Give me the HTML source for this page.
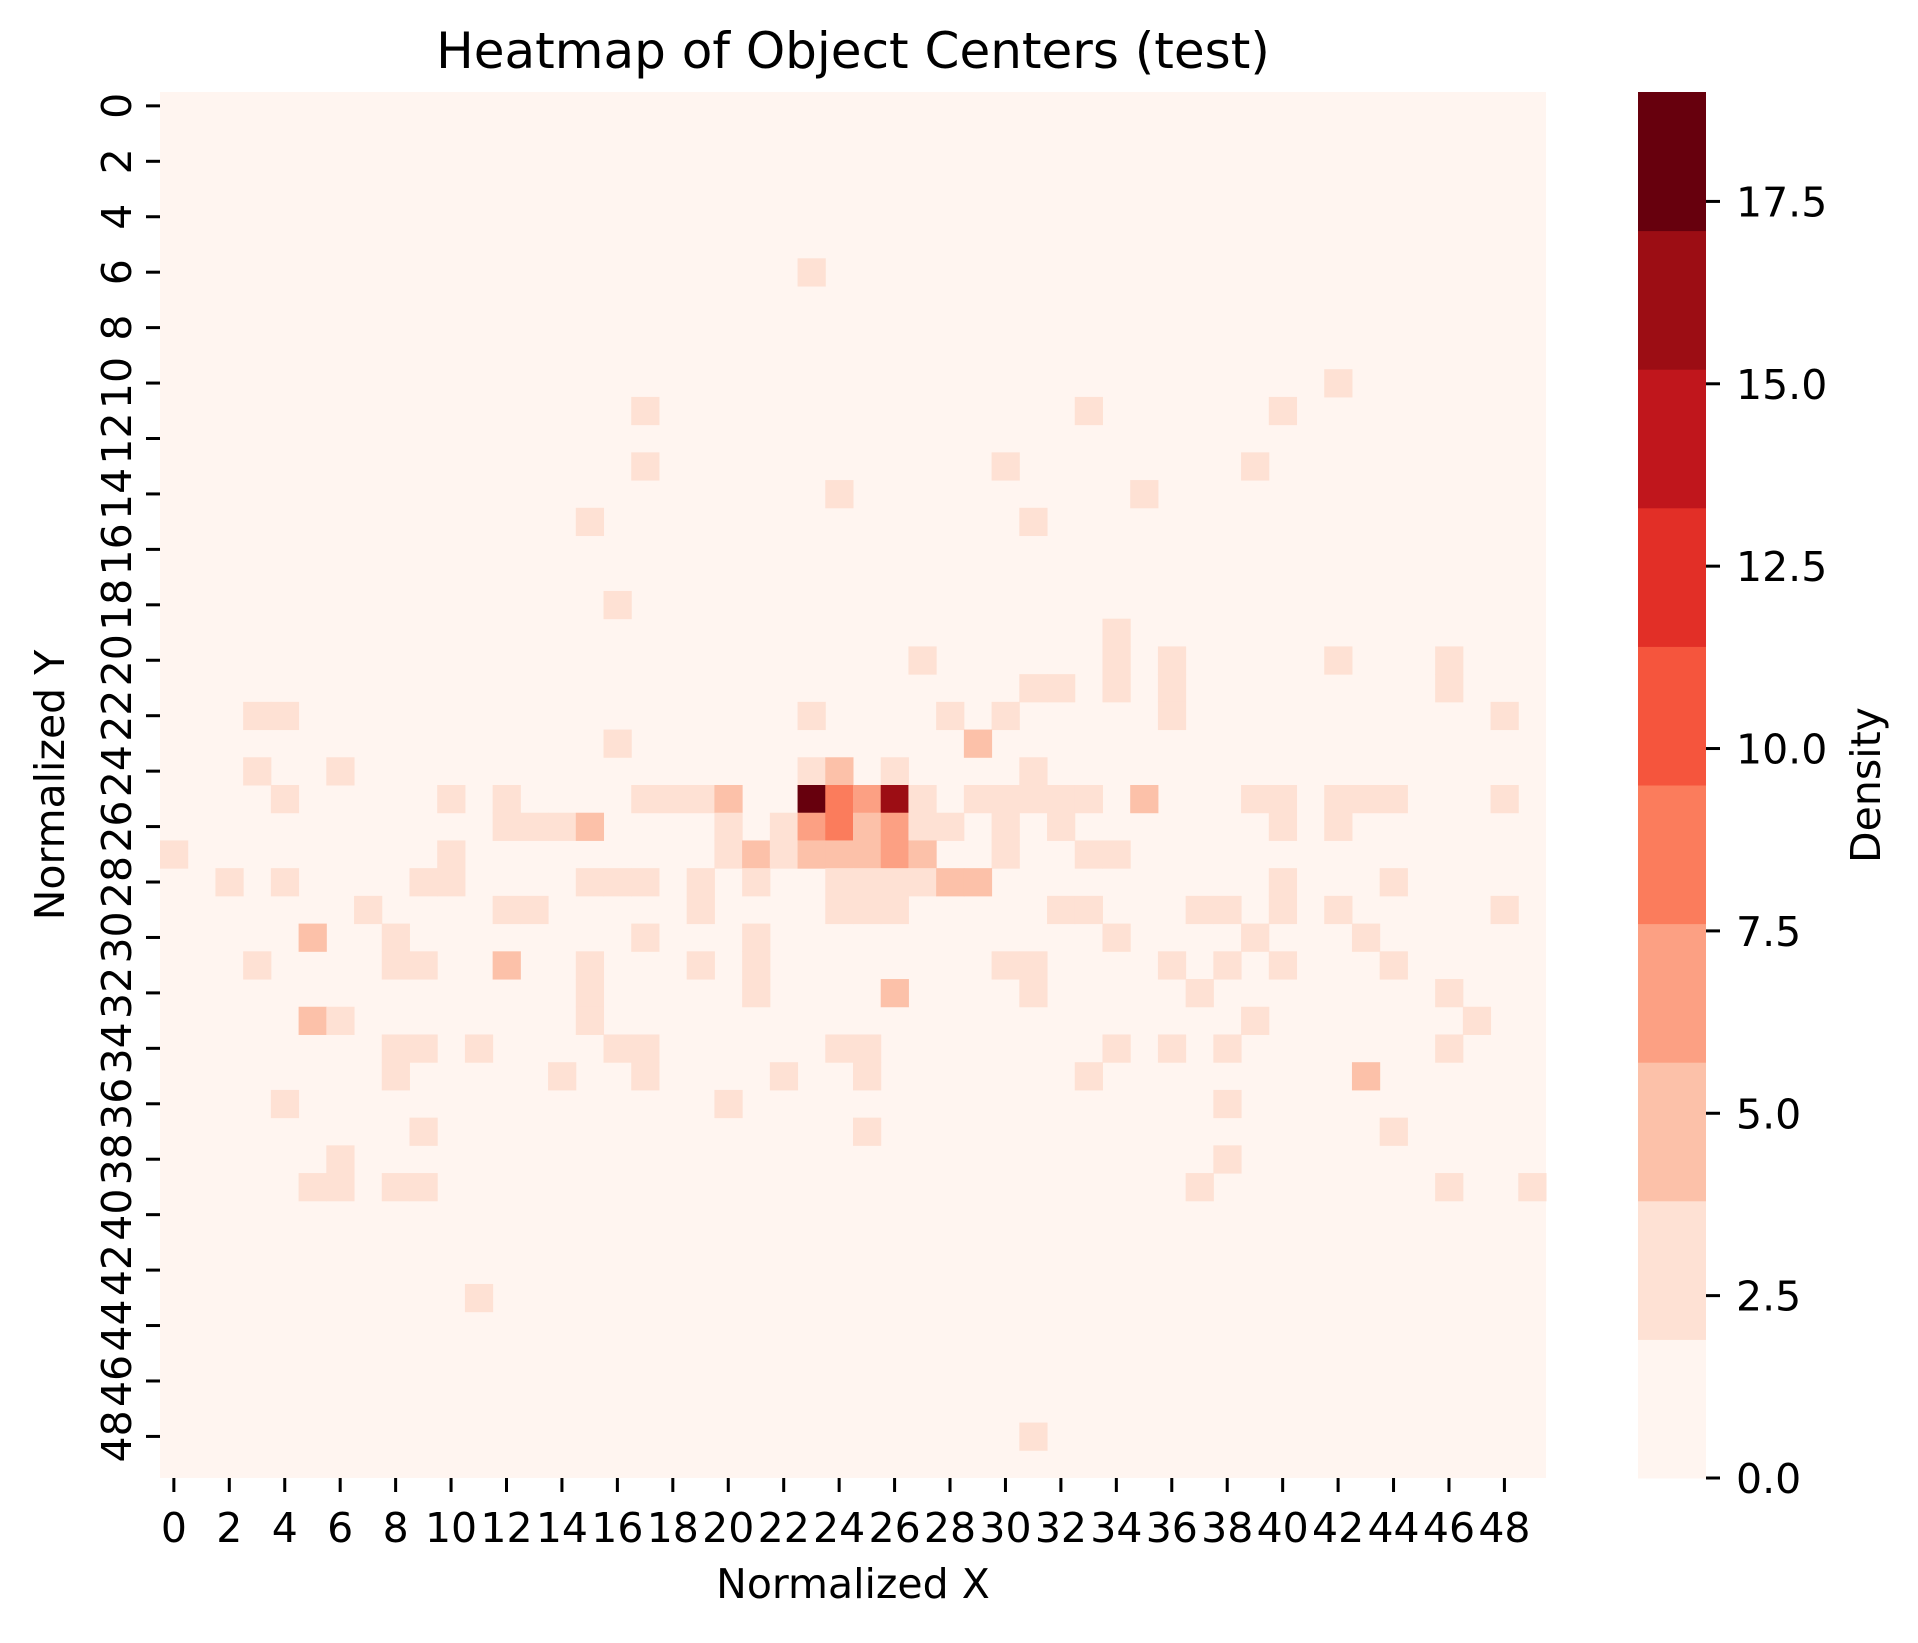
<!DOCTYPE html>
<html><head><meta charset="utf-8"><style>
html,body{margin:0;padding:0;background:#fff;}
svg text{font-family:"DejaVu Sans","Liberation Sans",sans-serif;fill:#000;}
</style></head><body>
<svg id="chart" width="1918" height="1638" viewBox="0 0 1918 1638" xmlns="http://www.w3.org/2000/svg">
<rect width="1918" height="1638" fill="#fff"/>
<text x="853" y="68" font-size="50" text-anchor="middle">Heatmap of Object Centers (test)</text>
<g id="cells"></g>
<g id="xticks"></g>
<g id="yticks"></g>
<g id="cbar"></g>
<text x="853" y="1598" font-size="41" text-anchor="middle">Normalized X</text>
<text transform="translate(64,785) rotate(-90)" font-size="41" text-anchor="middle">Normalized Y</text>
<text transform="translate(1880,785) rotate(-90)" font-size="41" text-anchor="middle">Density</text>
</svg>
<script>
const gridSize = 50;
const vmax = 19;
const cellY = [6,10,11,11,11,13,13,13,14,14,15,15,18,19,20,20,20,20,20,21,21,21,21,21,22,22,22,22,22,22,22,23,23,
24,24,24,24,24,24,
25,25,25,25,25,25,25,25,25,25,25,25,25,25,25,25,25,25,25,25,25,25,25,25,
26,26,26,26,26,26,26,26,26,26,26,26,26,26,26,26,
27,27,27,27,27,27,27,27,27,27,27,27,27,
28,28,28,28,28,28,28,28,28,28,28,28,28,28,28,28,28,
29,29,29,29,29,29,29,29,29,29,29,29,29,29,
30,30,30,30,30,30,30,
31,31,31,31,31,31,31,31,31,31,31,31,31,
32,32,32,32,32,32,
33,33,33,33,33,
34,34,34,34,34,34,34,34,34,34,34,
35,35,35,35,35,35,35,
36,36,36,37,37,37,38,38,39,39,39,39,39,39,39,43,48];
const cellX = [23,42,17,33,40,17,30,39,24,35,15,31,16,34,27,34,36,42,46,31,32,34,36,46,3,4,23,28,30,36,48,16,29,
3,6,23,24,26,31,
4,10,12,17,18,19,20,23,24,25,26,27,29,30,31,32,33,35,39,40,42,43,44,48,
12,13,14,15,20,22,23,24,25,26,27,28,30,32,40,42,
0,10,20,21,22,23,24,25,26,27,30,33,34,
2,4,9,10,15,16,17,19,21,24,25,26,27,28,29,40,44,
7,12,13,19,24,25,26,32,33,37,38,40,42,48,
5,8,17,21,34,39,43,
3,8,9,12,15,19,21,30,31,36,38,40,44,
15,21,26,31,37,46,
5,6,15,39,47,
8,9,11,16,17,24,25,34,36,38,46,
8,14,17,22,25,33,43,
4,20,38,9,25,44,6,38,5,6,8,9,37,46,49,11,31];
const cellV = [2,2,2,2,2,2,2,2,2,2,2,2,2,2,2,2,2,2,2,2,2,2,2,2,2,2,2,2,2,2,2,2,4,
2,2,2,4,2,2,
2,2,2,2,2,2,4,19,9,6,17,2,2,2,2,2,2,4,2,2,2,2,2,2,
2,2,2,4,2,2,6,9,4,6,2,2,2,2,2,2,
2,2,2,4,2,4,4,4,6,4,2,2,2,
2,2,2,2,2,2,2,2,2,2,2,2,2,4,4,2,2,
2,2,2,2,2,2,2,2,2,2,2,2,2,2,
4,2,2,2,2,2,2,
2,2,2,4,2,2,2,2,2,2,2,2,2,
2,2,4,2,2,2,
4,2,2,2,2,
2,2,2,2,2,2,2,2,2,2,2,
2,2,2,2,2,2,4,
2,2,2,2,2,2,2,2,2,2,2,2,2,2,2,2,2];
const binColors = ["#fff5f0","#fee1d4","#fcc1a9","#fca083","#fb7c5c","#f5553d","#e22f27","#c0161c","#9c0d14","#67000d"];
const xTickLabels = [0,2,4,6,8,10,12,14,16,18,20,22,24,26,28,30,32,34,36,38,40,42,44,46,48];
const yTickLabels = [0,2,4,6,8,10,12,14,16,18,20,22,24,26,28,30,32,34,36,38,40,42,44,46,48];
const cbarTicks = [0,2.5,5,7.5,10,12.5,15,17.5];

const NS="http://www.w3.org/2000/svg";
const L=160,R=1546,T=92,B=1478;
const cw=(R-L)/gridSize, ch=(B-T)/gridSize;
const xs=c=>L+c*cw, ys=r=>T+r*ch;
function colorOf(v){let b=Math.floor(v/(vmax/10));if(b>9)b=9;if(b<0)b=0;return binColors[b];}
function mk(tag,attrs,parent){const e=document.createElementNS(NS,tag);for(const k in attrs)e.setAttribute(k,attrs[k]);parent.appendChild(e);return e;}
const cells=document.getElementById('cells');
const bg=mk('rect',{x:L,y:T,width:R-L,height:B-T,fill:binColors[0]},cells);


const n=Math.min(cellX.length,cellY.length,cellV.length);
for(let i=0;i<n;i++){
  const r=mk('rect',{x:xs(cellX[i]),y:ys(cellY[i]),width:cw+0.5,height:ch+0.5,fill:colorOf(cellV[i])},cells);
  
  
}
const xg=document.getElementById('xticks');
xTickLabels.forEach(v=>{
  const cx=xs(v+0.5);
  const t=mk('line',{x1:cx,x2:cx,y1:B,y2:B+14,stroke:'#000','stroke-width':3},xg);
  
  
  const tx=mk('text',{x:cx,y:1542,'font-size':41,'text-anchor':'middle'},xg);
  tx.textContent=v;
  
  
});
const yg=document.getElementById('yticks');
yTickLabels.forEach(v=>{
  const cy=ys(v+0.5);
  const t=mk('line',{x1:L-14,x2:L,y1:cy,y2:cy,stroke:'#000','stroke-width':3},yg);
  
  
  const tx=mk('text',{transform:`translate(131,${cy}) rotate(-90)`,'font-size':41,'text-anchor':'middle'},yg);
  tx.textContent=v;
  
  
});
const cg=document.getElementById('cbar');
const CL=1638,CR=1706;
const cy=v=>B-v/vmax*(B-T);
for(let b=0;b<10;b++){
  const r=mk('rect',{x:CL,y:cy((b+1)*vmax/10),width:CR-CL,height:(B-T)/10+0.5,fill:binColors[b]},cg);
  
  
}
cbarTicks.forEach(v=>{
  const y=cy(v);
  const t=mk('line',{x1:CR,x2:CR+14,y1:y,y2:y,stroke:'#000','stroke-width':3},cg);
  
  
  const tx=mk('text',{x:1736,y:y+15,'font-size':41},cg);
  tx.textContent=v.toFixed(1);
  
  
});
</script>
</body></html>
